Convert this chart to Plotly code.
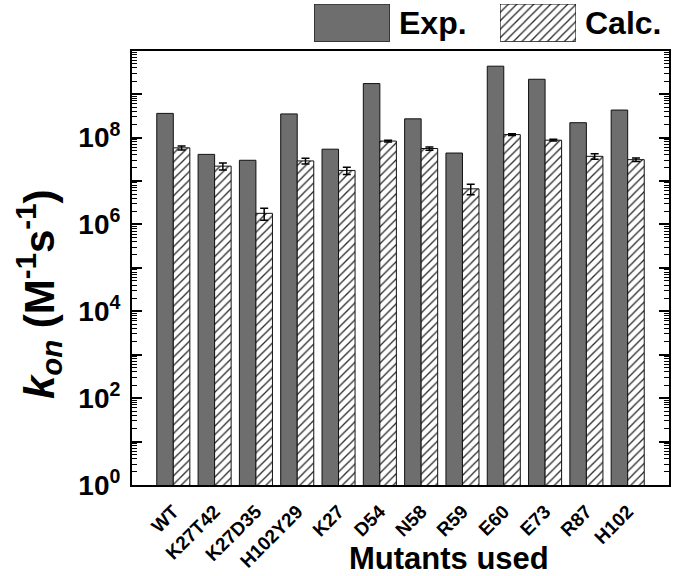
import plotly.graph_objects as go

# ---- data ----
mutants = ["WT", "K27T42", "K27D35", "H102Y29", "K27", "D54", "N58", "R59", "E60", "E73", "R87", "H102"]
exp_kon = [3.6e8, 4.1e7, 3.0e7, 3.5e8, 5.4e7, 1.75e9, 2.7e8, 4.4e7, 4.4e9, 2.2e9, 2.2e8, 4.3e8]
calc_kon = [5.8e7, 2.2e7, 1.8e6, 2.9e7, 1.75e7, 8.3e7, 5.6e7, 6.6e6, 1.17e8, 8.7e7, 3.7e7, 3.1e7]
calc_err = [0.6e7, 0.4e7, 0.55e6, 0.45e7, 0.33e7, 0.4e7, 0.5e7, 1.8e6, 0.6e7, 0.4e7, 0.55e7, 0.3e7]
y_major = [10 ** n for n in range(0, 11)]
y_major_text = ["10<sup>%d</sup>" % n if n % 2 == 0 and n < 10 else "" for n in range(0, 11)]
y_minor = [k * 10 ** n for n in range(0, 10) for k in range(2, 10)]

FONT = "Liberation Sans, Arial, sans-serif"
EXP_COLOR = "#6e6e6e"
HATCH = dict(shape="/", fgcolor="#2a2a2a", bgcolor="white", size=6, solidity=0.22,
             fillmode="replace", fgopacity=1)

fig = go.Figure()
fig.add_trace(go.Bar(
    x=mutants, y=exp_kon, name="Exp.",
    marker=dict(color=EXP_COLOR, line=dict(color="#111", width=1)),
))
fig.add_trace(go.Bar(
    x=mutants, y=calc_kon, name="Calc.",
    marker=dict(color="white", line=dict(color="#111", width=1), pattern=HATCH),
    error_y=dict(type="data", array=calc_err, visible=True, color="black", thickness=1.5, width=4),
))
# empty trace so that the right-hand tick axis is drawn
fig.add_trace(go.Scatter(x=[], y=[], yaxis="y4", showlegend=False, hoverinfo="skip"))

# legend boxes drawn as bars on their own small hidden axes
fig.add_trace(go.Bar(x=[0], y=[1], width=[1], xaxis="x2", yaxis="y2", showlegend=False, hoverinfo="skip",
                     marker=dict(color=EXP_COLOR, line=dict(color="#111", width=1.2))))
fig.add_trace(go.Bar(x=[0], y=[1], width=[1], xaxis="x3", yaxis="y3", showlegend=False, hoverinfo="skip",
                     marker=dict(color="white", line=dict(color="#111", width=1.2), pattern=HATCH)))

yticks_common = dict(
    type="log", range=[0, 10], domain=[0, 0.9029], automargin=False,
    tickmode="array", tickvals=y_major,
    ticks="inside", ticklen=10, tickwidth=2, tickcolor="black",
    minor=dict(tickmode="array", tickvals=y_minor, ticks="inside", ticklen=5, tickwidth=1,
               tickcolor="black", showgrid=False),
    showgrid=False, zeroline=False, fixedrange=True,
)

fig.update_layout(
    width=675, height=576,
    margin=dict(l=132, r=6, t=4, b=91, autoexpand=False),
    paper_bgcolor="white", plot_bgcolor="white",
    font=dict(family=FONT, color="black"),
    barmode="group", bargap=0.2, bargroupgap=0,
    showlegend=False,
    xaxis=dict(
        type="category", range=[-1, 12], domain=[0, 1], automargin=False,
        showline=True, linecolor="black", linewidth=2, mirror=True,
        ticks="", tickangle=-45, ticklabelstandoff=6,
        tickfont=dict(size=19, family=FONT, weight="bold"),
        showgrid=False, fixedrange=True,
    ),
    yaxis=dict(
        **yticks_common,
        ticktext=y_major_text,
        showline=True, linecolor="black", linewidth=2, mirror=True,
        tickfont=dict(size=28, family=FONT, weight="bold"),
        ticklabelstandoff=4,
    ),
    yaxis4=dict(
        **yticks_common,
        overlaying="y", side="right", anchor="x",
        showline=False, showticklabels=False,
    ),
    xaxis2=dict(domain=[0.3389, 0.4804], range=[-0.5, 0.5], anchor="y2", visible=False, fixedrange=True),
    yaxis2=dict(domain=[0.9216, 1.0], range=[0, 1], anchor="x2", visible=False, fixedrange=True),
    xaxis3=dict(domain=[0.6853, 0.8268], range=[-0.5, 0.5], anchor="y3", visible=False, fixedrange=True),
    yaxis3=dict(domain=[0.9216, 1.0], range=[0, 1], anchor="x3", visible=False, fixedrange=True),
    annotations=[
        dict(text="Exp.", xref="paper", yref="paper", x=0.4929, y=0.9605, xanchor="left", yanchor="middle",
             showarrow=False, font=dict(size=32, family=FONT, weight="bold")),
        dict(text="Calc.", xref="paper", yref="paper", x=0.8399, y=0.9605, xanchor="left", yanchor="middle",
             showarrow=False, font=dict(size=32, family=FONT, weight="bold")),
        dict(text="Mutants used", xref="paper", yref="paper", x=0.5903, y=-0.153, xanchor="center", yanchor="middle",
             showarrow=False, font=dict(size=31, family=FONT, weight="bold")),
        dict(text="<i>k<sub>on</sub></i> (M<sup>-1</sup>s<sup>-1</sup>)", xref="paper", yref="paper",
             x=-0.175, y=0.397, xanchor="center", yanchor="middle", textangle=-90,
             showarrow=False, font=dict(size=42, family=FONT, weight="bold")),
    ],
)

fig.write_html("out.html", config={"displayModeBar": False},
               post_script="document.body.style.margin='0px';")
